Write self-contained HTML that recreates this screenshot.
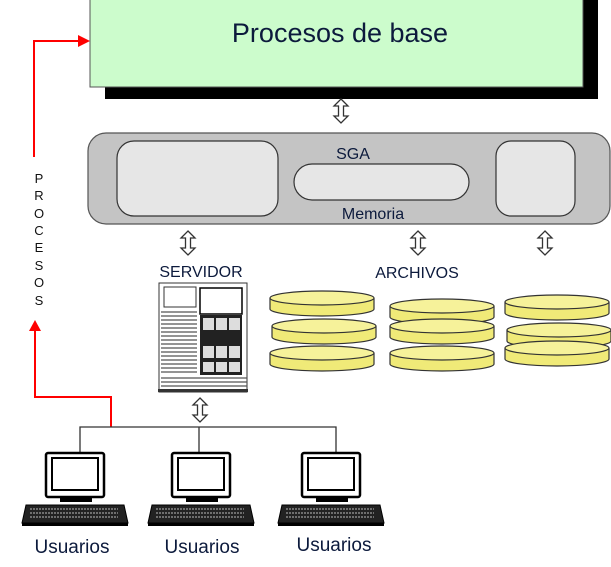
<!DOCTYPE html>
<html><head><meta charset="utf-8"><style>
html,body{margin:0;padding:0;background:#fff;width:611px;height:567px;overflow:hidden}
svg{display:block}
text{font-family:"Liberation Sans",sans-serif}
</style></head><body>
<svg width="611" height="567" viewBox="0 0 611 567" xmlns="http://www.w3.org/2000/svg">
<defs>
<g id="dar"><path d="M0,-12 L7,-5 L2.5,-5 L2.5,5 L7,5 L0,12 L-7,5 L-2.5,5 L-2.5,-5 L-7,-5 Z" fill="#fff" stroke="#333" stroke-width="1.3"/></g>
<g id="disk"><path d="M0,8 L0,19 A52,7 0 0 0 104,19 L104,8" fill="#f0ea78" stroke="#333" stroke-width="1.2"/><ellipse cx="52" cy="8" rx="52" ry="7" fill="#f6f29a" stroke="#333" stroke-width="1.2"/></g>
<g id="pc"><rect x="24" y="0" width="58" height="44" rx="2" fill="#fff" stroke="#000" stroke-width="2.5"/><rect x="30" y="5" width="46" height="32" fill="#fff" stroke="#000" stroke-width="2"/><rect x="38" y="44" width="32" height="5" fill="#000"/><path d="M4,52 L102,52 L106,70 L0,70 Z" fill="#222" stroke="#000"/><path d="M8,56 h88 M8,60 h88 M8,64 h88" stroke="#bbb" stroke-width="1" stroke-dasharray="2 1"/><rect x="0" y="70" width="106" height="3" fill="#000"/></g>
</defs>
<rect x="105" y="-5" width="493" height="104" fill="#000"/>
<rect x="90" y="-5" width="493" height="92" fill="#ccfccc" stroke="#555" stroke-width="1"/>
<text x="340" y="42" font-size="27" fill="#0c1a3c" text-anchor="middle">Procesos de base</text>
<use href="#dar" x="341" y="111"/>
<rect x="88" y="133" width="522" height="91" rx="18" fill="#c4c4c4" stroke="#555" stroke-width="1.2"/>
<rect x="117" y="141" width="161" height="75" rx="17" fill="#e6e6e6" stroke="#333" stroke-width="1.2"/>
<rect x="294" y="164" width="175" height="36" rx="18" fill="#e6e6e6" stroke="#333" stroke-width="1.2"/>
<rect x="496" y="141" width="79" height="75" rx="15" fill="#e6e6e6" stroke="#333" stroke-width="1.2"/>
<text x="353" y="159" font-size="16" fill="#0c1a3c" text-anchor="middle">SGA</text>
<text x="373" y="219" font-size="16" fill="#0c1a3c" text-anchor="middle">Memoria</text>
<use href="#dar" x="188" y="243"/>
<use href="#dar" x="418" y="243"/>
<use href="#dar" x="545" y="243"/>
<use href="#dar" x="200" y="410"/>
<path d="M34,157 L34,41 L80,41" fill="none" stroke="#f00" stroke-width="2"/>
<path d="M78,35 L90,41 L78,47 Z" fill="#f00"/>
<path d="M35,330 L35,397 L111,397 L111,427" fill="none" stroke="#f00" stroke-width="2"/>
<path d="M29,331 L35,320 L41,331 Z" fill="#f00"/>
<g font-size="13" fill="#111" text-anchor="middle">
<text x="39" y="183">P</text><text x="39" y="200">R</text><text x="39" y="218">O</text><text x="39" y="235">C</text><text x="39" y="252">E</text><text x="39" y="270">S</text><text x="39" y="287">O</text><text x="39" y="305">S</text>
</g>
<text x="201" y="277" font-size="16" fill="#0c1a3c" text-anchor="middle">SERVIDOR</text>
<text x="417" y="278" font-size="16" fill="#0c1a3c" text-anchor="middle">ARCHIVOS</text>
<rect x="159" y="283" width="88" height="109" fill="#fff" stroke="#333"/>
<rect x="164" y="287" width="32" height="20" fill="#fff" stroke="#333"/>
<rect x="200" y="288" width="42" height="26" fill="#fff" stroke="#000" stroke-width="1.5"/>
<rect x="200" y="315" width="42" height="60" fill="#222"/>
<g fill="#ddd"><rect x="203" y="318" width="11" height="12"/><rect x="216" y="318" width="11" height="12"/><rect x="229" y="318" width="11" height="12"/><rect x="203" y="346" width="11" height="12"/><rect x="216" y="346" width="11" height="12"/><rect x="229" y="346" width="11" height="12"/><rect x="203" y="362" width="11" height="10"/><rect x="216" y="362" width="11" height="10"/><rect x="229" y="362" width="11" height="10"/></g>
<path d="M161,312h36M161,316h36M161,320h36M161,324h36M161,328h36M161,332h36M161,336h36M161,340h36M161,344h36M161,348h36M161,352h36M161,356h36M161,360h36M161,364h36M161,368h36M161,372h36M161,378h86M161,382h86M161,386h86" stroke="#555" stroke-width="1.3"/>
<rect x="158" y="389" width="90" height="3" fill="#333"/>
<use href="#disk" x="270" y="290"/><use href="#disk" x="272" y="318"/><use href="#disk" x="270" y="345"/>
<use href="#disk" x="390" y="298"/><use href="#disk" x="390" y="318"/><use href="#disk" x="390" y="345"/>
<use href="#disk" x="505" y="294"/><use href="#disk" x="507" y="322"/><use href="#disk" x="505" y="340"/>
<path d="M80,453 L80,427 L336,427 L336,453 M199,427 L199,453" fill="none" stroke="#333" stroke-width="1.3"/>
<use href="#pc" x="22" y="453"/>
<use href="#pc" x="148" y="453"/>
<use href="#pc" x="278" y="453"/>
<g font-size="19" fill="#0c1a3c" text-anchor="middle">
<text x="72" y="553">Usuarios</text><text x="202" y="553">Usuarios</text><text x="334" y="551">Usuarios</text>
</g>
</svg>
</body></html>
